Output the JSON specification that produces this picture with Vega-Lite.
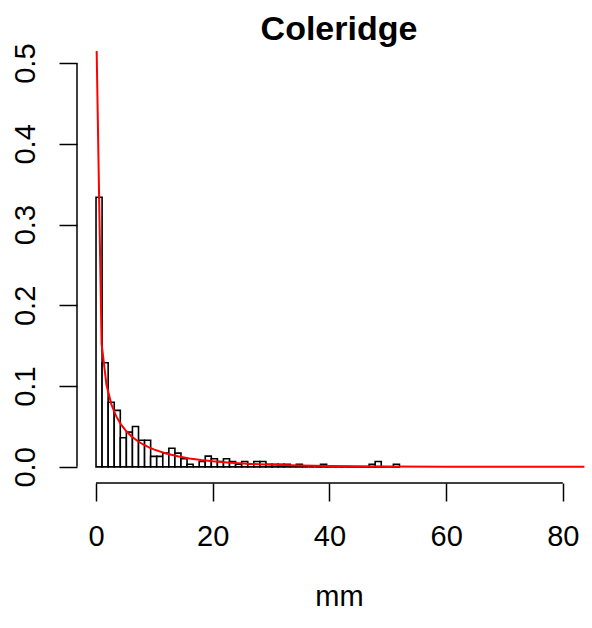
{
  "$schema": "https://vega.github.io/schema/vega-lite/v6.json",
  "width": 508,
  "height": 436,
  "autosize": {"type": "none"},
  "padding": {"left": 77, "top": 47, "right": 7, "bottom": 145},
  "background": "white",
  "title": {"text": "Coleridge", "font": "Liberation Sans", "fontSize": 34, "fontWeight": "bold", "color": "black", "anchor": "middle", "frame": "group", "baseline": "alphabetic", "offset": -31, "dx": 8},
  "config": {
    "view": {"stroke": null},
    "axis": {"grid": false, "labelFont": "Liberation Sans", "titleFont": "Liberation Sans", "labelColor": "black", "titleColor": "black", "tickColor": "black", "labelFontSize": 29, "titleFontSize": 29, "titleFontWeight": "normal", "tickWidth": 1.5, "tickSize": 18, "domain": false, "labelOverlap": false, "labelFlush": false}
  },
  "datasets": {
    "bars": [
      {"lo": 0, "hi": 1.04, "density": 0.334},
      {"lo": 1.04, "hi": 2.08, "density": 0.129},
      {"lo": 2.08, "hi": 3.12, "density": 0.080},
      {"lo": 3.12, "hi": 4.16, "density": 0.070},
      {"lo": 4.16, "hi": 5.2, "density": 0.036},
      {"lo": 5.2, "hi": 6.24, "density": 0.043},
      {"lo": 6.24, "hi": 7.28, "density": 0.050},
      {"lo": 7.28, "hi": 8.32, "density": 0.033},
      {"lo": 8.32, "hi": 9.36, "density": 0.033},
      {"lo": 9.36, "hi": 10.4, "density": 0.013},
      {"lo": 10.4, "hi": 11.44, "density": 0.013},
      {"lo": 11.44, "hi": 12.48, "density": 0.017},
      {"lo": 12.48, "hi": 13.52, "density": 0.023},
      {"lo": 13.52, "hi": 14.56, "density": 0.017},
      {"lo": 14.56, "hi": 15.6, "density": 0.010},
      {"lo": 15.6, "hi": 16.64, "density": 0.0033},
      {"lo": 16.64, "hi": 17.68, "density": 0},
      {"lo": 17.68, "hi": 18.72, "density": 0.0067},
      {"lo": 18.72, "hi": 19.76, "density": 0.0133},
      {"lo": 19.76, "hi": 20.8, "density": 0.010},
      {"lo": 20.8, "hi": 21.84, "density": 0.0067},
      {"lo": 21.84, "hi": 22.88, "density": 0.010},
      {"lo": 22.88, "hi": 23.92, "density": 0.0067},
      {"lo": 23.92, "hi": 24.96, "density": 0.0033},
      {"lo": 24.96, "hi": 26, "density": 0.0067},
      {"lo": 26, "hi": 27.04, "density": 0.0033},
      {"lo": 27.04, "hi": 28.08, "density": 0.0067},
      {"lo": 28.08, "hi": 29.12, "density": 0.0067},
      {"lo": 29.12, "hi": 30.16, "density": 0.0033},
      {"lo": 30.16, "hi": 31.2, "density": 0.0033},
      {"lo": 31.2, "hi": 32.24, "density": 0.0033},
      {"lo": 32.24, "hi": 33.28, "density": 0.0033},
      {"lo": 33.28, "hi": 34.32, "density": 0},
      {"lo": 34.32, "hi": 35.36, "density": 0.0033},
      {"lo": 35.36, "hi": 36.4, "density": 0},
      {"lo": 36.4, "hi": 37.44, "density": 0},
      {"lo": 37.44, "hi": 38.48, "density": 0},
      {"lo": 38.48, "hi": 39.52, "density": 0.0033},
      {"lo": 39.52, "hi": 40.56, "density": 0},
      {"lo": 40.56, "hi": 41.6, "density": 0},
      {"lo": 41.6, "hi": 42.64, "density": 0},
      {"lo": 42.64, "hi": 43.68, "density": 0},
      {"lo": 43.68, "hi": 44.72, "density": 0},
      {"lo": 44.72, "hi": 45.76, "density": 0},
      {"lo": 45.76, "hi": 46.8, "density": 0},
      {"lo": 46.8, "hi": 47.84, "density": 0.0033},
      {"lo": 47.84, "hi": 48.88, "density": 0.0067},
      {"lo": 48.88, "hi": 49.92, "density": 0},
      {"lo": 49.92, "hi": 50.96, "density": 0},
      {"lo": 50.96, "hi": 52, "density": 0.0033}
    ],
    "curve": [
      {"mm": 0.11, "density": 0.515},
      {"mm": 0.95, "density": 0.153},
      {"mm": 1.79, "density": 0.1016},
      {"mm": 2.63, "density": 0.0774},
      {"mm": 3.47, "density": 0.0625},
      {"mm": 4.3, "density": 0.0522},
      {"mm": 5.2, "density": 0.044},
      {"mm": 6, "density": 0.0382},
      {"mm": 7, "density": 0.0326},
      {"mm": 8, "density": 0.028},
      {"mm": 9, "density": 0.0244},
      {"mm": 10, "density": 0.0213},
      {"mm": 12, "density": 0.0166},
      {"mm": 14, "density": 0.0131},
      {"mm": 16, "density": 0.0104},
      {"mm": 18, "density": 0.0084},
      {"mm": 20, "density": 0.0068},
      {"mm": 23, "density": 0.005},
      {"mm": 26, "density": 0.0037},
      {"mm": 30, "density": 0.0025},
      {"mm": 35, "density": 0.0016},
      {"mm": 40, "density": 0.001},
      {"mm": 45, "density": 0.00064},
      {"mm": 50, "density": 0.00041},
      {"mm": 60, "density": 0.00017},
      {"mm": 70, "density": 0.00007},
      {"mm": 83.7, "density": 0.00002}
    ]
  },
  "layer": [
    {
      "data": {"name": "bars"},
      "mark": {"type": "rect", "fill": "white", "stroke": "black", "strokeWidth": 1.6},
      "encoding": {
        "x": {"field": "lo", "type": "quantitative", "scale": {"domain": [-3.26, 83.8], "nice": false, "zero": false},
              "axis": {"values": [0, 20, 40, 60, 80], "title": "mm", "labelPadding": 21, "titleY": 122, "titleX": 262, "titleBaseline": "alphabetic", "titleAnchor": "start", "titleAlign": "center"}},
        "x2": {"field": "hi"},
        "y": {"field": "density", "type": "quantitative", "scale": {"domain": [-0.02, 0.52], "nice": false, "zero": false},
              "axis": {"values": [0, 0.1, 0.2, 0.3, 0.4, 0.5], "format": ".1f", "title": null, "labelAngle": 270, "labelAlign": "center", "labelBaseline": "alphabetic", "labelPadding": 25}},
        "y2": {"datum": 0}
      }
    },
    {
      "data": {"name": "curve"},
      "mark": {"type": "line", "color": "#ff0000", "strokeWidth": 2, "clip": true},
      "encoding": {
        "x": {"field": "mm", "type": "quantitative"},
        "y": {"field": "density", "type": "quantitative"}
      }
    },
    {
      "data": {"values": [{}]},
      "mark": {"type": "rule", "color": "black", "strokeWidth": 1.5},
      "encoding": {"x": {"datum": 0}, "x2": {"datum": 80}, "y": {"datum": -0.02}}
    },
    {
      "data": {"values": [{}]},
      "mark": {"type": "rule", "color": "black", "strokeWidth": 1.5},
      "encoding": {"y": {"datum": 0}, "y2": {"datum": 0.5}, "x": {"datum": -3.26}}
    }
  ]
}
